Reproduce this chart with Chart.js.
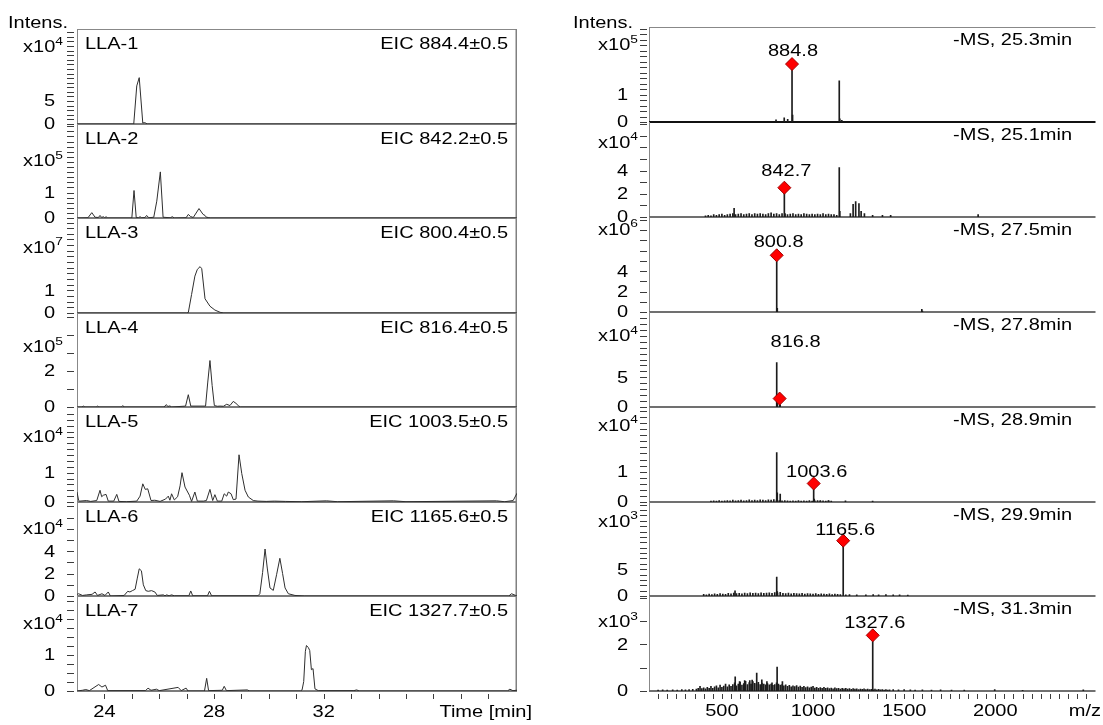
<!DOCTYPE html>
<html>
<head>
<meta charset="utf-8">
<script src="https://cdn.jsdelivr.net/npm/chart.js@4.4.1/dist/chart.umd.min.js"></script>
<style>
  html, body { margin: 0; padding: 0; background: #fff; }
  #fig { position: relative; width: 1103px; height: 725px; overflow: hidden; }
  #fig canvas { position: absolute; }
</style>
</head>
<body>
<div id="fig"></div>
<script>
// ---------------- extracted ion chromatograms: [time min, intensity in 10^exp] ----------------
const lla1 = [[23.0,0],[25.07,0],[25.18,8.3],[25.27,10.1],[25.40,0.2],[25.45,0.3],[25.51,0.2],[25.56,0],[39.05,0]];
const lla2 = [[23.0,0],[23.4,0.01],[23.54,0.21],[23.66,0.03],[23.78,0.02],[23.84,0.1],[23.9,0.02],[23.96,0.05],[24.01,0.01],
  [24.06,0.05],[24.12,0],[25.0,0],[25.08,1.08],[25.16,0.02],[25.24,0.01],[25.30,0.05],[25.36,0.01],[25.48,0.02],[25.54,0.1],
  [25.62,0.01],[25.80,0.03],[25.91,0.66],[26.04,1.81],[26.14,0.03],[26.40,0.01],[26.48,0.05],[26.55,0],[26.98,0.01],[27.06,0.14],
  [27.14,0.06],[27.24,0.02],[27.45,0.37],[27.60,0.14],[27.67,0.1],[27.72,0.03],[27.79,0.02],[27.86,0],[39.05,0]];
const lla3 = [[23.0,0],[27.0,0],[27.06,0.02],[27.18,0.82],[27.30,1.63],[27.39,1.93],[27.49,2.05],[27.55,1.96],[27.67,0.63],
  [27.85,0.30],[28.03,0.13],[28.22,0.03],[28.35,0],[39.05,0]];
const lla4 = [[23.0,0],[23.18,0],[23.23,0.05],[23.29,0],[23.7,0],[23.75,0.05],[23.8,0],[24.62,0],[24.67,0.08],[24.72,0],
  [26.18,0],[26.25,0.13],[26.32,0.03],[26.39,0.06],[26.45,0],[26.96,0.05],[27.06,0.68],[27.15,0.05],[27.69,0.05],[27.77,1.38],
  [27.85,2.57],[27.93,1.19],[28.01,0.08],[28.12,0.04],[28.22,0.05],[28.34,0.04],[28.46,0.15],[28.58,0.08],[28.70,0.31],
  [28.80,0.2],[28.88,0.08],[28.96,0],[39.05,0]];
const lla5 = [[23.0,0.34],[23.06,0.05],[23.1,0.03],[23.35,0.05],[23.5,0.02],[23.72,0.05],[23.84,0.40],[23.9,0.18],[23.96,0.23],
  [24.06,0.26],[24.14,0.03],[24.34,0.03],[24.45,0.26],[24.53,0.02],[24.8,0.01],[25.18,0.03],[25.30,0.2],[25.40,0.62],[25.49,0.43],
  [25.58,0.45],[25.70,0.05],[25.84,0.06],[26.03,0.02],[26.23,0.1],[26.33,0.2],[26.39,0.06],[26.45,0.28],[26.55,0.07],[26.67,0.18],
  [26.76,0.55],[26.83,1.0],[26.94,0.51],[27.10,0.23],[27.18,0.02],[27.30,0.34],[27.39,0.03],[27.61,0.03],[27.72,0.05],[27.85,0.43],
  [27.95,0.05],[28.03,0.25],[28.12,0.03],[28.28,0.03],[28.37,0.28],[28.46,0.2],[28.52,0.34],[28.62,0.28],[28.70,0.08],[28.80,0.1],
  [28.91,1.61],[29.01,0.97],[29.13,0.40],[29.25,0.17],[29.43,0.05],[29.6,0.03],[29.9,0.02],[30.2,0.03],[30.6,0.02],[31.2,0.01],
  [32.1,0.04],[32.5,0.01],[34.54,0.04],[35.0,0.01],[38.3,0.04],[38.6,0.01],[38.91,0.05],[39.05,0.3]];
const lla6 = [[23.0,0.15],[23.06,0.2],[23.2,0.05],[23.35,0.1],[23.55,0.15],[23.66,0.36],[23.75,0.05],[23.91,0.2],[24.02,0.05],
  [24.14,0.36],[24.22,0],[24.72,0.05],[24.85,0.42],[24.93,0.36],[25.02,0.48],[25.12,0.6],[25.20,1.6],[25.27,2.43],[25.35,2.25],
  [25.42,1.0],[25.51,0.48],[25.60,0.42],[25.72,0.48],[25.84,0.36],[25.93,0.05],[26.15,0.1],[26.21,0.02],[26.27,0.1],[26.36,0.02],
  [26.45,0.1],[26.55,0.02],[27.08,0.02],[27.15,0.45],[27.22,0.02],[27.76,0.02],[27.83,0.42],[27.91,0.02],[29.6,0.02],[29.67,0.2],
  [29.77,2.1],[29.86,4.2],[29.94,2.5],[30.04,0.72],[30.16,0.5],[30.28,1.9],[30.40,3.37],[30.50,2.0],[30.59,0.72],[30.71,0.2],
  [30.95,0.05],[31.3,0],[38.75,0],[38.85,0.2],[39.0,0.05],[39.05,0]];
const lla7 = [[23.0,0],[23.2,0.02],[23.32,0.04],[23.45,0.01],[23.79,0.18],[23.91,0.11],[24.04,0.16],[24.12,0.01],[25.5,0.01],
  [25.59,0.08],[25.7,0.02],[25.9,0.05],[26.0,0.01],[26.69,0.1],[26.8,0.01],[26.98,0.08],[27.05,0],[27.65,0],[27.73,0.35],
  [27.8,0.01],[28.3,0.02],[28.37,0.13],[28.45,0.01],[29.21,0.03],[29.3,0],[31.15,0],[31.21,0.03],[31.27,0.26],[31.33,1.1],
  [31.37,1.26],[31.44,1.2],[31.49,1.12],[31.55,0.59],[31.61,0.62],[31.68,0.06],[31.8,0.01],[33.1,0.01],[33.2,0.03],[33.3,0],
  [38.7,0],[38.79,0.05],[38.9,0.01],[39.05,0.02]];

const eicNames  = ['LLA-1', 'LLA-2', 'LLA-3', 'LLA-4', 'LLA-5', 'LLA-6', 'LLA-7'];
const eicTitles = ['EIC 884.4±0.5', 'EIC 842.2±0.5', 'EIC 800.4±0.5', 'EIC 816.4±0.5',
                   'EIC 1003.5±0.5', 'EIC 1165.6±0.5', 'EIC 1327.7±0.5'];
const eicExp    = [4, 5, 7, 5, 4, 4, 4];
const eicMax    = [20.7, 3.69, 4.2, 5.2, 3.24, 8.4, 2.63];
const eicStep   = [1, 0.2, 0.25, 1, 0.2, 1, 0.25];
const eicTickLabels = [[0, 5], [0, 1], [0, 1], [0, 2], [0, 1], [0, 2, 4], [0, 1]];
const eicExpAt  = [16.6, 2.2, 2.86, 3.26, 2.18, 5.9, 1.83];

// ---------------- mass spectra: [m/z, intensity in 10^exp] ----------------
const ms1Sticks = [[797,0.08],[842,0.15],[861,0.1],[884.8,2.11],[887.8,0.25],[1144,1.5],[1147,0.12],[1158,0.06]];
const ms2Sticks = [[567,0.75],[842.7,2.53],[845.7,0.3],[1144,4.26],[1147,0.5],[1205,0.3],[1220,1.09],[1234,1.34],
  [1252,1.15],[1264,0.5],[1282,0.3],[1327,0.15],[1381,0.15],[1426,0.15],[1906,0.2]];
const ms2NoiseStart = 410, ms2NoiseStep = 15;
const ms2Noise = [0.1,0.15,0.1,0.2,0.15,0.2,0.25,0.15,0.2,0.25,
  0.3,0.2,0.25,0.3,0.2,0.25,0.3,0.2,0.3,0.25,
  0.3,0.25,0.2,0.3,0.35,0.25,0.3,0.2,0.3,0.25,
  0.2,0.25,0.3,0.2,0.25,0.2,0.3,0.25,0.2,0.25,
  0.2,0.25,0.2,0.3,0.2,0.25,0.2,0.2,0.15];
const ms3Sticks = [[800.8,5.55],[803.8,0.35],[1597,0.25],[1600,0.1]];
const ms4Sticks = [[800.8,7.5],[803.8,0.6],[816.8,1.42],[819.8,0.35]];
const ms5Sticks = [[800.8,1.63],[803.8,0.3],[820,0.26],[1003.6,0.61],[1006.6,0.1],[1040,0.05],[1085,0.05],[1178,0.04],[1327,0.03]];
const ms5NoiseStart = 440, ms5NoiseStep = 15;
const ms5Noise = [0.03,0.04,0.03,0.05,0.03,0.04,0.05,0.04,0.06,0.04,
  0.05,0.06,0.04,0.05,0.07,0.05,0.06,0.05,0.07,0.06,
  0.05,0.07,0.06,0.08,0.06,0.05,0.04,0.05,0.04,0.03,
  0.04,0.03,0.05,0.03,0.04,0.03,0.05,0.03,0.04,0.05,
  0.03,0.04,0.03,0.04,0.03];
const ms6Sticks = [[572,0.95],[800.8,3.5],[803.8,0.8],[1165.6,10.3],[1180,0.2],[1200,0.25],[1240,0.2],[1290,0.2],
  [1330,0.25],[1360,0.2],[1400,0.25],[1440,0.2],[1475,0.2],[1520,0.15]];
const ms6NoiseStart = 400, ms6NoiseStep = 15;
const ms6Noise = [0.3,0.2,0.35,0.25,0.4,0.3,0.45,0.35,0.3,0.5,
  0.4,0.55,0.45,0.5,0.4,0.55,0.45,0.6,0.5,0.55,
  0.45,0.6,0.5,0.55,0.6,0.5,0.65,0.55,0.7,0.5,
  0.45,0.55,0.4,0.5,0.45,0.4,0.5,0.35,0.45,0.4,
  0.35,0.45,0.3,0.4,0.35,0.3,0.4,0.25,0.35,0.3,0.25];
const ms7Sticks = [[150,0.04],[175,0.05],[200,0.04],[230,0.05],[255,0.04],[280,0.06],[300,0.05],[320,0.06],[340,0.07],
  [573,0.61],[597,0.4],[625,0.45],[653,0.45],[666,0.47],[691,0.77],[719,0.48],[747,0.4],[775,0.35],[803,1.03],[832,0.4],
  [1327.6,2.39],[1440,0.06],[1469,0.05],[1500,0.06],[1534,0.05],[1560,0.04],[1600,0.05],[1650,0.04],[1700,0.05],
  [1760,0.04],[1830,0.04],[1997,0.06],[2150,0.03],[2483,0.05]];
const ms7NoiseStart = 360, ms7NoiseStep = 10;
const ms7Noise = [0.08,0.12,0.2,0.1,0.14,0.09,0.16,0.12,0.2,0.11,
  0.18,0.22,0.14,0.25,0.16,0.21,0.3,0.18,0.26,0.2,
  0.28,0.35,0.22,0.3,0.38,0.25,0.32,0.42,0.28,0.36,
  0.3,0.4,0.33,0.3,0.37,0.28,0.34,0.3,0.26,0.32,
  0.27,0.3,0.24,0.28,0.35,0.3,0.25,0.28,0.22,0.26,
  0.2,0.24,0.18,0.22,0.19,0.23,0.17,0.21,0.16,0.2,
  0.15,0.18,0.14,0.17,0.2,0.13,0.16,0.12,0.15,0.11,
  0.16,0.12,0.14,0.1,0.13,0.09,0.14,0.1,0.12,0.08,
  0.11,0.09,0.12,0.08,0.1,0.07,0.1,0.08,0.09,0.06,
  0.08,0.07,0.09,0.06,0.08,0.06,0.07,0.05,0.08,0.05,
  0.07,0.05,0.06,0.04,0.06,0.04,0.05];

const msPeakMz  = [884.8, 842.7, 800.8, 816.8, 1003.6, 1165.6, 1327.6];
const msPeakInt = [2.11, 2.53, 5.55, 1.42, 0.61, 10.3, 2.39];
const msTitles  = ['-MS, 25.3min', '-MS, 25.1min', '-MS, 27.5min', '-MS, 27.8min',
                   '-MS, 28.9min', '-MS, 29.9min', '-MS, 31.3min'];
const msExp     = [5, 4, 6, 4, 4, 3, 3];
const msMax     = [3.46, 8.2, 9.3, 16, 3.13, 17.5, 4.08];
const msStep    = [0.2, 1, 1, 1, 0.2, 1, 1];
const msTickLabels = [[0, 1], [0, 2, 4], [0, 2, 4], [0, 5], [0, 1], [0, 5], [0, 2]];
const msExpAt   = [2.77, 6.35, 8.0, 11.8, 2.5, 13.7, 2.92];

const timeRange = [23.0, 39.05];
const timeTickLabels = [24, 28, 32];
const mzRange = [100, 2550];
const mzTickLabels = [500, 1000, 1500, 2000];

// ---------------- layout (page pixels) ----------------
const GEO = {
  eic: { canvasLeft: 0, canvasWidth: 540, plotLeft: 77, plotRight: 517,
         tops: [29, 124, 218, 313, 407, 502, 596], bottom: 691,
         tickX: [67, 74], labelRight: 55, expRight: 63, intensX: 8,
         nameX: 85, titleRight: 508, titleDy: 16, rightBorder: true,
         sep: '#7c7c7c', xRange: timeRange, xStep: 1, xLabels: timeTickLabels,
         xTitle: 'Time [min]', xTitleRight: 532, xLabelDy: 22 },
  ms:  { canvasLeft: 560, canvasWidth: 543, plotLeft: 649, plotRight: 1103,
         tops: [27, 122, 217, 312, 407, 502, 596], bottom: 691,
         tickX: [640, 647], labelRight: 628, expRight: 638, intensX: 573,
         titleRight: 1072, titleDy: 14, rightBorder: false,
         sep: '#707070', xRange: mzRange, xStep: 50, xLabels: mzTickLabels,
         xTitle: 'm/z', xTitleRight: 1101, xLabelDy: 21 }
};
const peakLabelDx = [1, 2, 2, 16, 3, 2, 2];
const peakLabelDy = [-12, -16, -13, -56, -11, -10, -12];

const FONT = '"Liberation Sans", Arial, sans-serif';
const SX = 1.25;   // the source figure's lettering is horizontally stretched

function txt(ctx, s, x, y, align, size) {
  ctx.save();
  ctx.font = size + 'px ' + FONT;
  ctx.textBaseline = 'middle';
  ctx.textAlign = 'left';
  ctx.fillStyle = '#000';
  const w = ctx.measureText(s).width * SX;
  const x0 = align === 'right' ? x - w : align === 'center' ? x - w / 2 : x;
  ctx.translate(x0, y);
  ctx.scale(SX, 1);
  ctx.fillText(s, 0, 0);
  ctx.restore();
  return w;
}

function expLabel(ctx, e, rightX, y) {
  ctx.save();
  ctx.font = '16px ' + FONT;
  const w1 = ctx.measureText('x10').width * SX;
  ctx.font = '11px ' + FONT;
  const w2 = ctx.measureText(String(e)).width * SX;
  ctx.restore();
  const x0 = rightX - w1 - w2;
  txt(ctx, 'x10', x0, y, 'left', 16);
  txt(ctx, String(e), x0 + w1, y - 6, 'left', 11);
}

const toXY = arr => arr.map(([x, y]) => ({ x, y }));
const gridPairs = (start, step, vals) => vals.map((v, k) => [start + k * step, v]);

function addPanel(col, i, datasets, axis, texts) {
  const g = GEO[col];
  const top = g.tops[i];
  const bottom = i < 6 ? g.tops[i + 1] : g.bottom;
  const last = i === 6;
  const cTop = Math.max(0, top - 30);
  const padTop = top - cTop;
  const padBottom = last ? 725 - bottom : 30;
  const h = padTop + (bottom - top) + padBottom;
  const cv = document.createElement('canvas');
  cv.width = g.canvasWidth; cv.height = h;
  cv.style.left = g.canvasLeft + 'px'; cv.style.top = cTop + 'px';
  cv.style.width = g.canvasWidth + 'px'; cv.style.height = h + 'px';
  document.getElementById('fig').appendChild(cv);
  const X = v => v - g.canvasLeft;
  const Y = v => v - cTop;

  const decor = {
    id: 'decor',
    beforeDatasetsDraw(chart) {
      const ctx = chart.ctx, a = chart.chartArea;
      ctx.save();
      ctx.strokeStyle = '#888'; ctx.lineWidth = 1;
      ctx.beginPath();
      if (i === 0) { ctx.moveTo(a.left, a.top + 0.5); ctx.lineTo(a.right, a.top + 0.5); }
      ctx.moveTo(a.left + 0.5, a.top); ctx.lineTo(a.left + 0.5, a.bottom);
      ctx.stroke();
      if (g.rightBorder) {
        ctx.lineWidth = 1.5; ctx.strokeStyle = '#808080';
        ctx.beginPath(); ctx.moveTo(a.right - 0.75, a.top); ctx.lineTo(a.right - 0.75, a.bottom); ctx.stroke();
      }
      ctx.lineWidth = 2;
      ctx.strokeStyle = (col === 'ms' && i === 0) ? '#111' : g.sep;
      ctx.beginPath(); ctx.moveTo(a.left, a.bottom); ctx.lineTo(a.right, a.bottom); ctx.stroke();
      ctx.restore();
    },
    afterDatasetsDraw(chart) {
      const ctx = chart.ctx, a = chart.chartArea, xs = chart.scales.x, ys = chart.scales.y;
      ctx.save();
      ctx.strokeStyle = '#3c3c3c'; ctx.lineWidth = 1;
      ctx.beginPath();
      for (let k = 0; k * axis.step <= axis.max + 1e-9; k++) {
        const py = Math.round(ys.getPixelForValue(k * axis.step)) + 0.5;
        if (py < a.top + 2) continue;
        ctx.moveTo(X(g.tickX[0]), py); ctx.lineTo(X(g.tickX[1]), py);
      }
      ctx.stroke();
      axis.labels.forEach(v => txt(ctx, String(v), X(g.labelRight), ys.getPixelForValue(v) + 1, 'right', 16));
      expLabel(ctx, axis.exp, X(g.expRight), ys.getPixelForValue(axis.expAt));
      if (texts.left) txt(ctx, texts.left, X(g.nameX), a.top + g.titleDy, 'left', 16);
      txt(ctx, texts.right, X(g.titleRight), a.top + g.titleDy, 'right', 16);
      if (texts.peak) {
        const p = texts.peak;
        txt(ctx, p.mz.toFixed(1), xs.getPixelForValue(p.mz) + p.dx, ys.getPixelForValue(p.int) + p.dy, 'center', 16);
      }
      if (i === 0) txt(ctx, 'Intens.', X(g.intensX), Y(24), 'left', 16);
      if (last) {
        ctx.beginPath();
        for (let v = g.xRange[0]; v <= g.xRange[1]; v += g.xStep) {
          const px = Math.round(xs.getPixelForValue(v)) + 0.5;
          if (px < a.left + 3 || px > a.right - 3) continue;
          ctx.moveTo(px, a.bottom + 3); ctx.lineTo(px, a.bottom + 8);
        }
        ctx.stroke();
        g.xLabels.forEach(v => txt(ctx, String(v), xs.getPixelForValue(v), a.bottom + g.xLabelDy, 'center', 16));
        txt(ctx, g.xTitle, X(g.xTitleRight), a.bottom + g.xLabelDy, 'right', 16);
      }
      ctx.restore();
    }
  };

  new Chart(cv, {
    type: col === 'ms' ? 'bar' : 'line',
    data: { datasets },
    options: {
      responsive: false, animation: false, devicePixelRatio: 1, events: [],
      layout: { padding: { left: g.plotLeft - g.canvasLeft, right: g.canvasLeft + g.canvasWidth - g.plotRight,
                           top: padTop, bottom: padBottom } },
      plugins: { legend: { display: false }, tooltip: { enabled: false } },
      scales: {
        x: { type: 'linear', display: false, min: g.xRange[0], max: g.xRange[1], offset: false, grid: { offset: false } },
        y: { type: 'linear', display: false, min: 0, max: axis.max }
      }
    },
    plugins: [decor]
  });
}

// ---------------- left column: chromatograms ----------------
const eicSeries = [lla1, lla2, lla3, lla4, lla5, lla6, lla7];
eicSeries.forEach((s, i) => {
  addPanel('eic', i,
    [{ data: toXY(s), borderColor: '#2e2e2e', borderWidth: 1, pointRadius: 0, tension: 0, fill: false }],
    { max: eicMax[i], step: eicStep[i], labels: eicTickLabels[i], exp: eicExp[i], expAt: eicExpAt[i] },
    { left: eicNames[i], right: eicTitles[i] });
});

// ---------------- right column: spectra ----------------
const msSeries = [
  ms1Sticks,
  ms2Sticks.concat(gridPairs(ms2NoiseStart, ms2NoiseStep, ms2Noise)),
  ms3Sticks,
  ms4Sticks,
  ms5Sticks.concat(gridPairs(ms5NoiseStart, ms5NoiseStep, ms5Noise)),
  ms6Sticks.concat(gridPairs(ms6NoiseStart, ms6NoiseStep, ms6Noise)),
  ms7Sticks.concat(gridPairs(ms7NoiseStart, ms7NoiseStep, ms7Noise))
];
msSeries.forEach((s, i) => {
  const sticks = s.slice().sort((p, q) => p[0] - q[0]);
  addPanel('ms', i,
    [
      { type: 'scatter', data: [{ x: msPeakMz[i], y: msPeakInt[i] }], pointStyle: 'rectRot', pointRadius: 6.5,
        backgroundColor: '#ff0000', borderColor: '#a00000', borderWidth: 1, clip: false, order: 0 },
      { type: 'bar', data: toXY(sticks), backgroundColor: '#1c1c1c', borderWidth: 0, barThickness: 1,
        grouped: false, order: 1 }
    ],
    { max: msMax[i], step: msStep[i], labels: msTickLabels[i], exp: msExp[i], expAt: msExpAt[i] },
    { right: msTitles[i], peak: { mz: msPeakMz[i], int: msPeakInt[i], dx: peakLabelDx[i], dy: peakLabelDy[i] } });
});
</script>
</body>
</html>
